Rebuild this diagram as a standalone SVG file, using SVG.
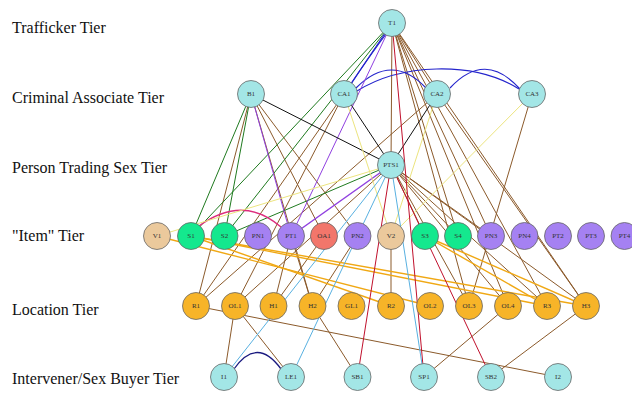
<svg xmlns="http://www.w3.org/2000/svg" width="632" height="393" viewBox="0 0 632 393">
<style>
.tl{font-family:"Liberation Serif","Times New Roman",serif;font-size:16px;fill:#111}
.nl{font-family:"Liberation Serif","Times New Roman",serif;font-size:7px;fill:#333;text-anchor:middle;dominant-baseline:central}
circle{stroke:#666;stroke-width:0.8}
.cy{fill:#a3e6e6}.tn{fill:#ebc99c}.gr{fill:#14e88e}.pu{fill:#a581f2}.rd{fill:#f2766b}.or{fill:#f7b428}
line,path{fill:none;stroke-width:1}
.b{stroke:#8b5a2b}.g{stroke:#1f7a1f}.bl{stroke:#2424cc;stroke-width:1.2}.nv{stroke:#1a1a80;stroke-width:1.3}.p{stroke:#9040e0}.k{stroke:#111}
.y{stroke:#ece47e}.o{stroke:#f0a814;stroke-width:1.4}.r{stroke:#c0102c}.lb{stroke:#58b0e0}.pk{stroke:#dd2d7d;stroke-width:1.4}
</style>
<rect width="632" height="393" fill="#fff"/>
<g id="tier-labels">
<text class="tl" x="12" y="33">Trafficker Tier</text>
<text class="tl" x="12" y="103">Criminal Associate Tier</text>
<text class="tl" x="12" y="173">Person Trading Sex Tier</text>
<text class="tl" x="12" y="241">"Item" Tier</text>
<text class="tl" x="12" y="315">Location Tier</text>
<text class="tl" x="12" y="384">Intervener/Sex Buyer Tier</text>
</g>
<g id="connectors">
<line class="b" x1="392" y1="23" x2="391" y2="165"/>
<line class="b" x1="392" y1="23" x2="437" y2="94"/>
<line class="b" x1="392" y1="23" x2="458" y2="236"/>
<line class="b" x1="392" y1="23" x2="491" y2="236"/>
<line class="b" x1="392" y1="23" x2="469" y2="306"/>
<line class="b" x1="392" y1="23" x2="508" y2="306"/>
<line class="b" x1="392" y1="23" x2="547" y2="306"/>
<line class="b" x1="392" y1="23" x2="586" y2="306"/>
<line class="b" x1="251" y1="94" x2="196" y2="306"/>
<line class="b" x1="251" y1="94" x2="324" y2="236"/>
<line class="b" x1="251" y1="94" x2="312.5" y2="306"/>
<line class="b" x1="251" y1="94" x2="357.5" y2="236"/>
<line class="b" x1="344" y1="94" x2="235" y2="306"/>
<line class="b" x1="344" y1="94" x2="196" y2="306"/>
<line class="b" x1="437" y1="94" x2="196" y2="306"/>
<line class="b" x1="437" y1="94" x2="586" y2="306"/>
<line class="b" x1="532" y1="94" x2="469" y2="306"/>
<line class="b" x1="391" y1="165" x2="235" y2="306"/>
<line class="b" x1="391" y1="165" x2="425" y2="236"/>
<line class="b" x1="391" y1="165" x2="458" y2="236"/>
<line class="b" x1="391" y1="165" x2="491" y2="236"/>
<line class="b" x1="391" y1="165" x2="469" y2="306"/>
<line class="b" x1="391" y1="165" x2="508" y2="306"/>
<line class="b" x1="391" y1="165" x2="547" y2="306"/>
<line class="b" x1="391" y1="165" x2="586" y2="306"/>
<line class="b" x1="291" y1="236" x2="273.5" y2="306"/>
<line class="b" x1="324" y1="236" x2="273.5" y2="306"/>
<line class="b" x1="291" y1="236" x2="312.5" y2="306"/>
<line class="b" x1="357.5" y1="236" x2="312.5" y2="306"/>
<line class="b" x1="391" y1="236" x2="391" y2="306"/>
<line class="b" x1="196" y1="306" x2="558" y2="377"/>
<line class="b" x1="235" y1="306" x2="224" y2="377"/>
<line class="b" x1="235" y1="306" x2="291" y2="377"/>
<line class="b" x1="312.5" y1="306" x2="357.5" y2="377"/>
<line class="b" x1="508" y1="306" x2="424" y2="377"/>
<line class="b" x1="586" y1="306" x2="491" y2="377"/>
<line class="g" x1="392" y1="23" x2="191" y2="236"/>
<line class="g" x1="392" y1="23" x2="224.5" y2="236"/>
<line class="g" x1="251" y1="94" x2="191" y2="236"/>
<line class="g" x1="251" y1="94" x2="224.5" y2="236"/>
<line class="g" x1="391" y1="165" x2="224.5" y2="236"/>
<line class="bl" x1="392" y1="23" x2="344" y2="94"/>
<path class="bl" d="M389 30 Q368 58 351 84"/>
<path class="bl" d="M356 88 Q392 52 426 88"/>
<path class="bl" d="M357 91 C400 64 472 60 519 89"/>
<path class="bl" d="M450 88 Q485 50 520 89"/>
<path class="nv" d="M234 369 Q257 336 281 369"/>
<line class="p" x1="392" y1="23" x2="291" y2="236"/>
<line class="p" x1="251" y1="94" x2="291" y2="236"/>
<line class="p" x1="391" y1="165" x2="291" y2="236" style="stroke-width:1.5"/>
<path class="pk" d="M199 226 Q243 194 281 227"/>
<line class="k" x1="251" y1="94" x2="391" y2="165"/>
<line class="k" x1="344" y1="94" x2="391" y2="165"/>
<line class="k" x1="437" y1="94" x2="391" y2="165"/>
<line class="y" x1="391" y1="165" x2="157" y2="236"/>
<line class="y" x1="344" y1="94" x2="391" y2="236"/>
<line class="y" x1="437" y1="94" x2="391" y2="236"/>
<line class="y" x1="532" y1="94" x2="391" y2="236"/>
<line class="o" x1="157" y1="236" x2="430" y2="306"/>
<line class="o" x1="191" y1="236" x2="391" y2="306"/>
<line class="o" x1="191" y1="236" x2="547" y2="306"/>
<line class="o" x1="191" y1="236" x2="586" y2="306"/>
<line class="o" x1="425" y1="236" x2="547" y2="306"/>
<line class="o" x1="425" y1="236" x2="586" y2="306"/>
<line class="r" x1="392" y1="23" x2="424" y2="377"/>
<line class="r" x1="391" y1="165" x2="357.5" y2="377"/>
<line class="r" x1="391" y1="165" x2="491" y2="377"/>
<line class="lb" x1="391" y1="165" x2="224" y2="377"/>
<line class="lb" x1="391" y1="165" x2="291" y2="377"/>
<line class="lb" x1="391" y1="165" x2="424" y2="377"/>
</g>
<g id="T1"><circle class="cy" cx="392" cy="23" r="13.5"/><text class="nl" x="392" y="23">T1</text></g>
<g id="B1"><circle class="cy" cx="251" cy="94" r="13.5"/><text class="nl" x="251" y="94">B1</text></g>
<g id="CA1"><circle class="cy" cx="344" cy="94" r="13.5"/><text class="nl" x="344" y="94">CA1</text></g>
<g id="CA2"><circle class="cy" cx="437" cy="94" r="13.5"/><text class="nl" x="437" y="94">CA2</text></g>
<g id="CA3"><circle class="cy" cx="532" cy="94" r="13.5"/><text class="nl" x="532" y="94">CA3</text></g>
<g id="PTS1"><circle class="cy" cx="391" cy="165" r="13.5"/><text class="nl" x="391" y="165">PTS1</text></g>
<g id="V1"><circle class="tn" cx="157" cy="236" r="13.5"/><text class="nl" x="157" y="236">V1</text></g>
<g id="S1"><circle class="gr" cx="191" cy="236" r="13.5"/><text class="nl" x="191" y="236">S1</text></g>
<g id="S2"><circle class="gr" cx="224.5" cy="236" r="13.5"/><text class="nl" x="224.5" y="236">S2</text></g>
<g id="PN1"><circle class="pu" cx="258" cy="236" r="13.5"/><text class="nl" x="258" y="236">PN1</text></g>
<g id="PT1"><circle class="pu" cx="291" cy="236" r="13.5"/><text class="nl" x="291" y="236">PT1</text></g>
<g id="OA1"><circle class="rd" cx="324" cy="236" r="13.5"/><text class="nl" x="324" y="236">OA1</text></g>
<g id="PN2"><circle class="pu" cx="357.5" cy="236" r="13.5"/><text class="nl" x="357.5" y="236">PN2</text></g>
<g id="V2"><circle class="tn" cx="391" cy="236" r="13.5"/><text class="nl" x="391" y="236">V2</text></g>
<g id="S3"><circle class="gr" cx="425" cy="236" r="13.5"/><text class="nl" x="425" y="236">S3</text></g>
<g id="S4"><circle class="gr" cx="458" cy="236" r="13.5"/><text class="nl" x="458" y="236">S4</text></g>
<g id="PN3"><circle class="pu" cx="491" cy="236" r="13.5"/><text class="nl" x="491" y="236">PN3</text></g>
<g id="PN4"><circle class="pu" cx="524.5" cy="236" r="13.5"/><text class="nl" x="524.5" y="236">PN4</text></g>
<g id="PT2"><circle class="pu" cx="558" cy="236" r="13.5"/><text class="nl" x="558" y="236">PT2</text></g>
<g id="PT3"><circle class="pu" cx="591" cy="236" r="13.5"/><text class="nl" x="591" y="236">PT3</text></g>
<g id="PT4"><circle class="pu" cx="624.5" cy="236" r="13.5"/><text class="nl" x="624.5" y="236">PT4</text></g>
<g id="R1"><circle class="or" cx="196" cy="306" r="13.5"/><text class="nl" x="196" y="306">R1</text></g>
<g id="OL1"><circle class="or" cx="235" cy="306" r="13.5"/><text class="nl" x="235" y="306">OL1</text></g>
<g id="H1"><circle class="or" cx="273.5" cy="306" r="13.5"/><text class="nl" x="273.5" y="306">H1</text></g>
<g id="H2"><circle class="or" cx="312.5" cy="306" r="13.5"/><text class="nl" x="312.5" y="306">H2</text></g>
<g id="GL1"><circle class="or" cx="351.5" cy="306" r="13.5"/><text class="nl" x="351.5" y="306">GL1</text></g>
<g id="R2"><circle class="or" cx="391" cy="306" r="13.5"/><text class="nl" x="391" y="306">R2</text></g>
<g id="OL2"><circle class="or" cx="430" cy="306" r="13.5"/><text class="nl" x="430" y="306">OL2</text></g>
<g id="OL3"><circle class="or" cx="469" cy="306" r="13.5"/><text class="nl" x="469" y="306">OL3</text></g>
<g id="OL4"><circle class="or" cx="508" cy="306" r="13.5"/><text class="nl" x="508" y="306">OL4</text></g>
<g id="R3"><circle class="or" cx="547" cy="306" r="13.5"/><text class="nl" x="547" y="306">R3</text></g>
<g id="H3"><circle class="or" cx="586" cy="306" r="13.5"/><text class="nl" x="586" y="306">H3</text></g>
<g id="I1"><circle class="cy" cx="224" cy="377" r="13.5"/><text class="nl" x="224" y="377">I1</text></g>
<g id="LE1"><circle class="cy" cx="291" cy="377" r="13.5"/><text class="nl" x="291" y="377">LE1</text></g>
<g id="SB1"><circle class="cy" cx="357.5" cy="377" r="13.5"/><text class="nl" x="357.5" y="377">SB1</text></g>
<g id="SP1"><circle class="cy" cx="424" cy="377" r="13.5"/><text class="nl" x="424" y="377">SP1</text></g>
<g id="SB2"><circle class="cy" cx="491" cy="377" r="13.5"/><text class="nl" x="491" y="377">SB2</text></g>
<g id="I2"><circle class="cy" cx="558" cy="377" r="13.5"/><text class="nl" x="558" y="377">I2</text></g>
</svg>
